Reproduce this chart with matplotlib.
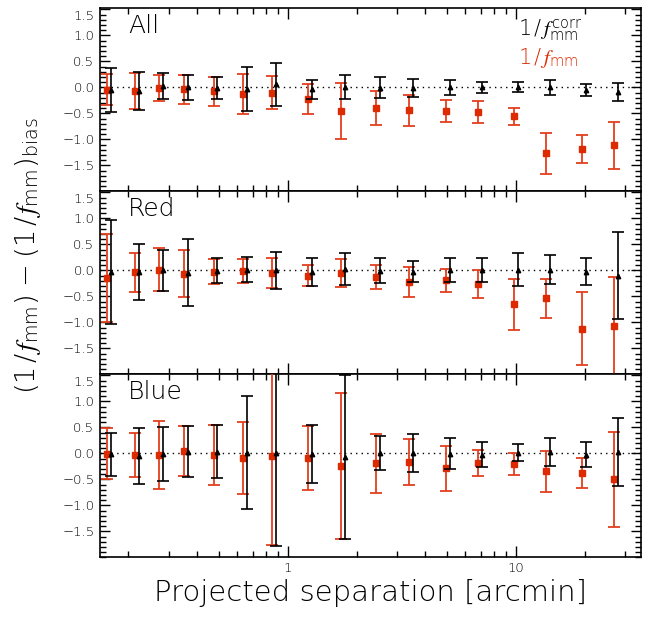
import numpy as np
import matplotlib
matplotlib.use("Agg")
import matplotlib.pyplot as plt
from matplotlib.ticker import FixedLocator, LogLocator, NullFormatter, FixedFormatter
import matplotlib.transforms as mtransforms

plt.rcParams['font.family'] = ['DejaVu Sans']
plt.rcParams['font.weight'] = 'light'
plt.rcParams['mathtext.fontset'] = 'custom'
plt.rcParams['mathtext.rm'] = 'DejaVu Sans:light'
plt.rcParams['mathtext.it'] = 'STIXGeneral:italic'
plt.rcParams['mathtext.default'] = 'it'
plt.rcParams['axes.unicode_minus'] = True

# ---------------- data ----------------
sep = [0.167, 0.222, 0.284, 0.364, 0.491, 0.664, 0.886, 1.273, 1.775, 2.543,
       3.545, 5.11, 7.10, 10.16, 14.1, 20.2, 28.1]

panels = ["All", "Red", "Blue"]

all_corr = [-0.05, -0.065, 0.025, 0.0, -0.01, -0.035, 0.055, -0.04, 0.0, -0.005,
            -0.01, 0.0, 0.0, 0.01, 0.0, -0.045, -0.09]
all_corr_err = [0.43, 0.365, 0.245, 0.245, 0.21, 0.425, 0.405, 0.18, 0.23, 0.205,
                0.17, 0.14, 0.11, 0.10, 0.14, 0.115, 0.17]
all_raw = [-0.045, -0.075, -0.015, -0.04, -0.075, -0.125, -0.10, -0.225, -0.455, -0.40,
           -0.445, -0.455, -0.475, -0.555, -1.265, -1.19, -1.115]
all_raw_err = [0.295, 0.345, 0.255, 0.28, 0.275, 0.385, 0.31, 0.285, 0.535, 0.32,
               0.295, 0.205, 0.205, 0.165, 0.395, 0.27, 0.455]

red_corr = [-0.035, -0.04, 0.0, -0.045, -0.01, 0.015, 0.0, -0.03, 0.025, -0.005,
            -0.025, 0.01, 0.01, 0.015, 0.01, -0.03, -0.105]
red_corr_err = [1.005, 0.54, 0.39, 0.645, 0.24, 0.245, 0.35, 0.27, 0.315, 0.235,
                0.205, 0.23, 0.23, 0.325, 0.28, 0.26, 0.835]
red_raw = [-0.15, -0.04, 0.01, -0.065, -0.025, -0.015, -0.05, -0.10, -0.055, -0.125,
           -0.225, -0.195, -0.26, -0.655, -0.535, -1.12, -1.07]
red_raw_err = [0.84, 0.38, 0.41, 0.455, 0.245, 0.235, 0.29, 0.20, 0.265, 0.235,
               0.295, 0.225, 0.27, 0.495, 0.375, 0.70, 0.95]

blue_corr = [-0.02, -0.055, -0.015, 0.035, 0.035, 0.015, 0.0, -0.015, -0.07, 0.0,
             0.015, -0.005, -0.03, 0.015, 0.025, -0.025, 0.02]
blue_corr_err = [0.42, 0.535, 0.525, 0.485, 0.505, 1.095, 1.79, 0.555, 1.57, 0.325,
                 0.365, 0.295, 0.24, 0.155, 0.265, 0.235, 0.65]
blue_raw = [-0.01, -0.03, -0.03, 0.04, -0.025, -0.09, -0.05, -0.09, -0.24, -0.19,
            -0.16, -0.29, -0.19, -0.205, -0.345, -0.38, -0.50]
blue_raw_err = [0.49, 0.42, 0.65, 0.48, 0.575, 0.69, 1.71, 0.615, 1.405, 0.57,
                0.445, 0.43, 0.255, 0.21, 0.39, 0.285, 0.915]

corr_vals = [all_corr, red_corr, blue_corr]
corr_errs = [all_corr_err, red_corr_err, blue_corr_err]
raw_vals = [all_raw, red_raw, blue_raw]
raw_errs = [all_raw_err, red_raw_err, blue_raw_err]

yticks = [-1.5, -1.0, -0.5, 0.0, 0.5, 1.0, 1.5]
xticks = [1, 10]
xticklabels = ["1", "10"]

# ---------------- figure ----------------
W, H = 661, 621
fig = plt.figure(figsize=(W / 100, H / 100), dpi=100)

left, right = 100 / W, 641 / W
ptop = 8.3
ph = 183.0
red_col = '#E2401E'
red_mk = '#DD2A00'

sep_arr = np.array(sep)
raw_shift = 0.961  # red points drawn slightly to the left

axes = []
for i in range(3):
    top_px = ptop + i * ph
    bottom = 1 - (top_px + ph) / H
    ax = fig.add_axes([left, bottom, right - left, ph / H])
    axes.append(ax)
    ax.set_xscale('log')
    ax.set_xlim(0.15, 35.3)
    ax.set_ylim(-2.0, 1.52)

    ax.axhline(0, color='black', lw=1.0, ls=(0, (1, 3)), zorder=1)

    ax.errorbar(sep_arr * raw_shift, raw_vals[i], yerr=raw_errs[i], fmt='s',
                color=red_col, mfc=red_mk, mec=red_mk, ms=5, elinewidth=1.3,
                capsize=4.5, capthick=1.3, zorder=3)
    ax.errorbar(sep_arr, corr_vals[i], yerr=corr_errs[i], fmt='^',
                color='black', mfc='black', mec='black', ms=3.2, elinewidth=1.2,
                capsize=4.5, capthick=1.2, zorder=4)

    ax.text(0.052, 0.905, panels[i], transform=ax.transAxes, fontsize=18,
            fontweight='light', va='center', ha='left')

    ax.yaxis.set_major_locator(FixedLocator(yticks))
    ax.yaxis.set_major_formatter(FixedFormatter(
        [("\u2212%.1f" % abs(v)) if v < 0 else "%.1f" % v for v in yticks]))
    ax.yaxis.set_minor_locator(FixedLocator(np.round(np.arange(-2.0, 1.55, 0.1), 2)))
    ax.xaxis.set_major_locator(FixedLocator(xticks))
    ax.xaxis.set_minor_locator(LogLocator(base=10, subs=np.arange(2, 10)))
    ax.xaxis.set_minor_formatter(NullFormatter())
    if i == 2:
        ax.xaxis.set_major_formatter(FixedFormatter(xticklabels))
    else:
        ax.xaxis.set_major_formatter(NullFormatter())

    ax.tick_params(which='both', direction='in', top=True, right=True,
                   labelsize=9.5, width=1.0, color='black')
    ax.tick_params(which='major', length=8)
    ax.tick_params(which='minor', length=4)
    ax.tick_params(axis='y', which='major', length=7, pad=4)
    for sp in ax.spines.values():
        sp.set_linewidth(1.2)

    # nudge the top "1.5" label down, as in the reference
    offset = mtransforms.ScaledTranslation(0, -6 / 100, fig.dpi_scale_trans)
    ticks = ax.yaxis.get_major_ticks()
    ticks[-1].label1.set_transform(ticks[-1].label1.get_transform() + offset)

ax0 = axes[0]
ax0.text(0.773, 0.881, r'$\mathrm{1\,/\,}f_{\mathrm{mm}}^{\mathrm{corr}}$', transform=ax0.transAxes,
         fontsize=15, color='black', va='center', ha='left')
ax0.text(0.773, 0.728, r'$\mathrm{1\,/\,}f_{\mathrm{mm}}$', transform=ax0.transAxes,
         fontsize=15, color=red_mk, va='center', ha='left')

fig.text(0.042, 0.589,
         r'$\mathrm{(1\,/\,}f_{\mathrm{mm}}\mathrm{)\,-\,(1\,/\,}f_{\mathrm{mm}}\mathrm{)}_{\mathrm{bias}}$',
         rotation=90, fontsize=19.5, va='center', ha='center')
fig.text((100 + 641) / 2 / W, 1 - 593 / H, 'Projected separation [arcmin]',
         fontsize=21, fontweight='light', ha='center', va='center')

fig.savefig('out.png', dpi=100)
